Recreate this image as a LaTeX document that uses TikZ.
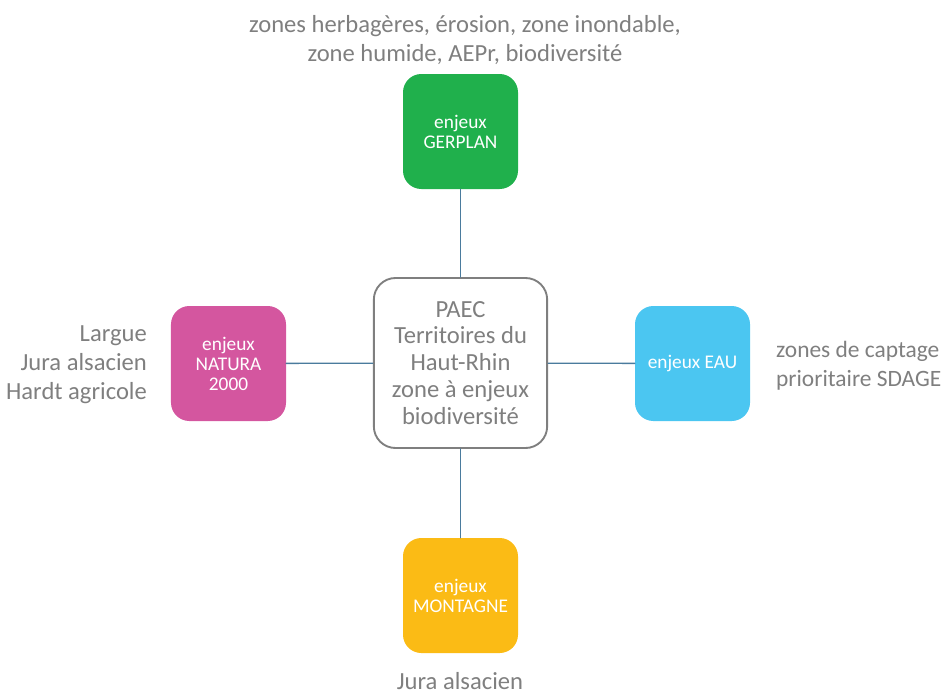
\documentclass[tikz,border=0pt]{standalone}
\usepackage{fontspec}
\setmainfont{Carlito}
\usepackage{xcolor}
\usepackage{tikz}
\usetikzlibrary{calc}
\definecolor{txtGray}{HTML}{7F7F7F}
\definecolor{linkBlue}{HTML}{4A7B9D}
\definecolor{gerplanGreen}{HTML}{20B04C}
\definecolor{naturaPink}{HTML}{D4569F}
\definecolor{eauCyan}{HTML}{4BC6F1}
\definecolor{montagneAmber}{HTML}{FBBB15}
\tikzset{
	enjeu/.style={rounded corners=0.55cm, minimum width=3.45cm, minimum height=3.45cm,
		inner sep=0pt, text=white, align=center, font=\fontsize{16.5}{17}\selectfont},
	paecbox/.style={draw=txtGray, line width=1.6pt, rounded corners=0.65cm, fill=white,
		minimum width=5.2cm, minimum height=5.1cm, inner sep=0pt, text=txtGray,
		align=center, font=\fontsize{21}{23}\selectfont},
	remark/.style={text=txtGray, font=\fontsize{21}{24.6}\selectfont},
	link/.style={linkBlue, line width=1.1pt}
}

\begin{document}
\begin{tikzpicture}[x=0.03cm, y=-0.03cm, line cap=round]

  \useasboundingbox (0,0) rectangle (948,695);

  \coordinate (P) at (460.5,363);
  \coordinate (G) at (460.5,131.5);
  \coordinate (N) at (228.5,363.5);
  \coordinate (E) at (692.5,363.5);
  \coordinate (M) at (460.5,595.5);

  \node[paecbox] (paec) at (P) {PAEC\\Territoires du\\Haut-Rhin\\zone à enjeux\\biodiversité};

  \node[enjeu, fill=gerplanGreen] (gerplan) at (G) {enjeux\\GERPLAN};
  \node[enjeu, fill=naturaPink] (natura) at (N) {enjeux\\NATURA\\2000};
  \node[enjeu, fill=eauCyan] (eau) at (E) {enjeux EAU};
  \node[enjeu, fill=montagneAmber] (montagne) at (M) {enjeux\\MONTAGNE};

  \draw[link] (paec) -- (gerplan);
  \draw[link] (paec) -- (natura);
  \draw[link] (paec) -- (eau);
  \draw[link] (paec) -- (montagne);

  \node[remark, align=center] (gerplanTxt) at (465,40) {zones herbagères, érosion, zone inondable,\\zone humide, AEPr, biodiversité};
  \node[remark, align=right, anchor=east] (naturaTxt) at (151,365) {Largue\\Jura alsacien\\Hardt agricole};
  \node[remark, align=left, anchor=west, font=\fontsize{20}{24.6}\selectfont] (eauTxt) at (772,366) {zones de captage\\prioritaire SDAGE};
  \node[remark, anchor=base] (montagneTxt) at (460,689) {Jura alsacien};

\end{tikzpicture}
\end{document}
